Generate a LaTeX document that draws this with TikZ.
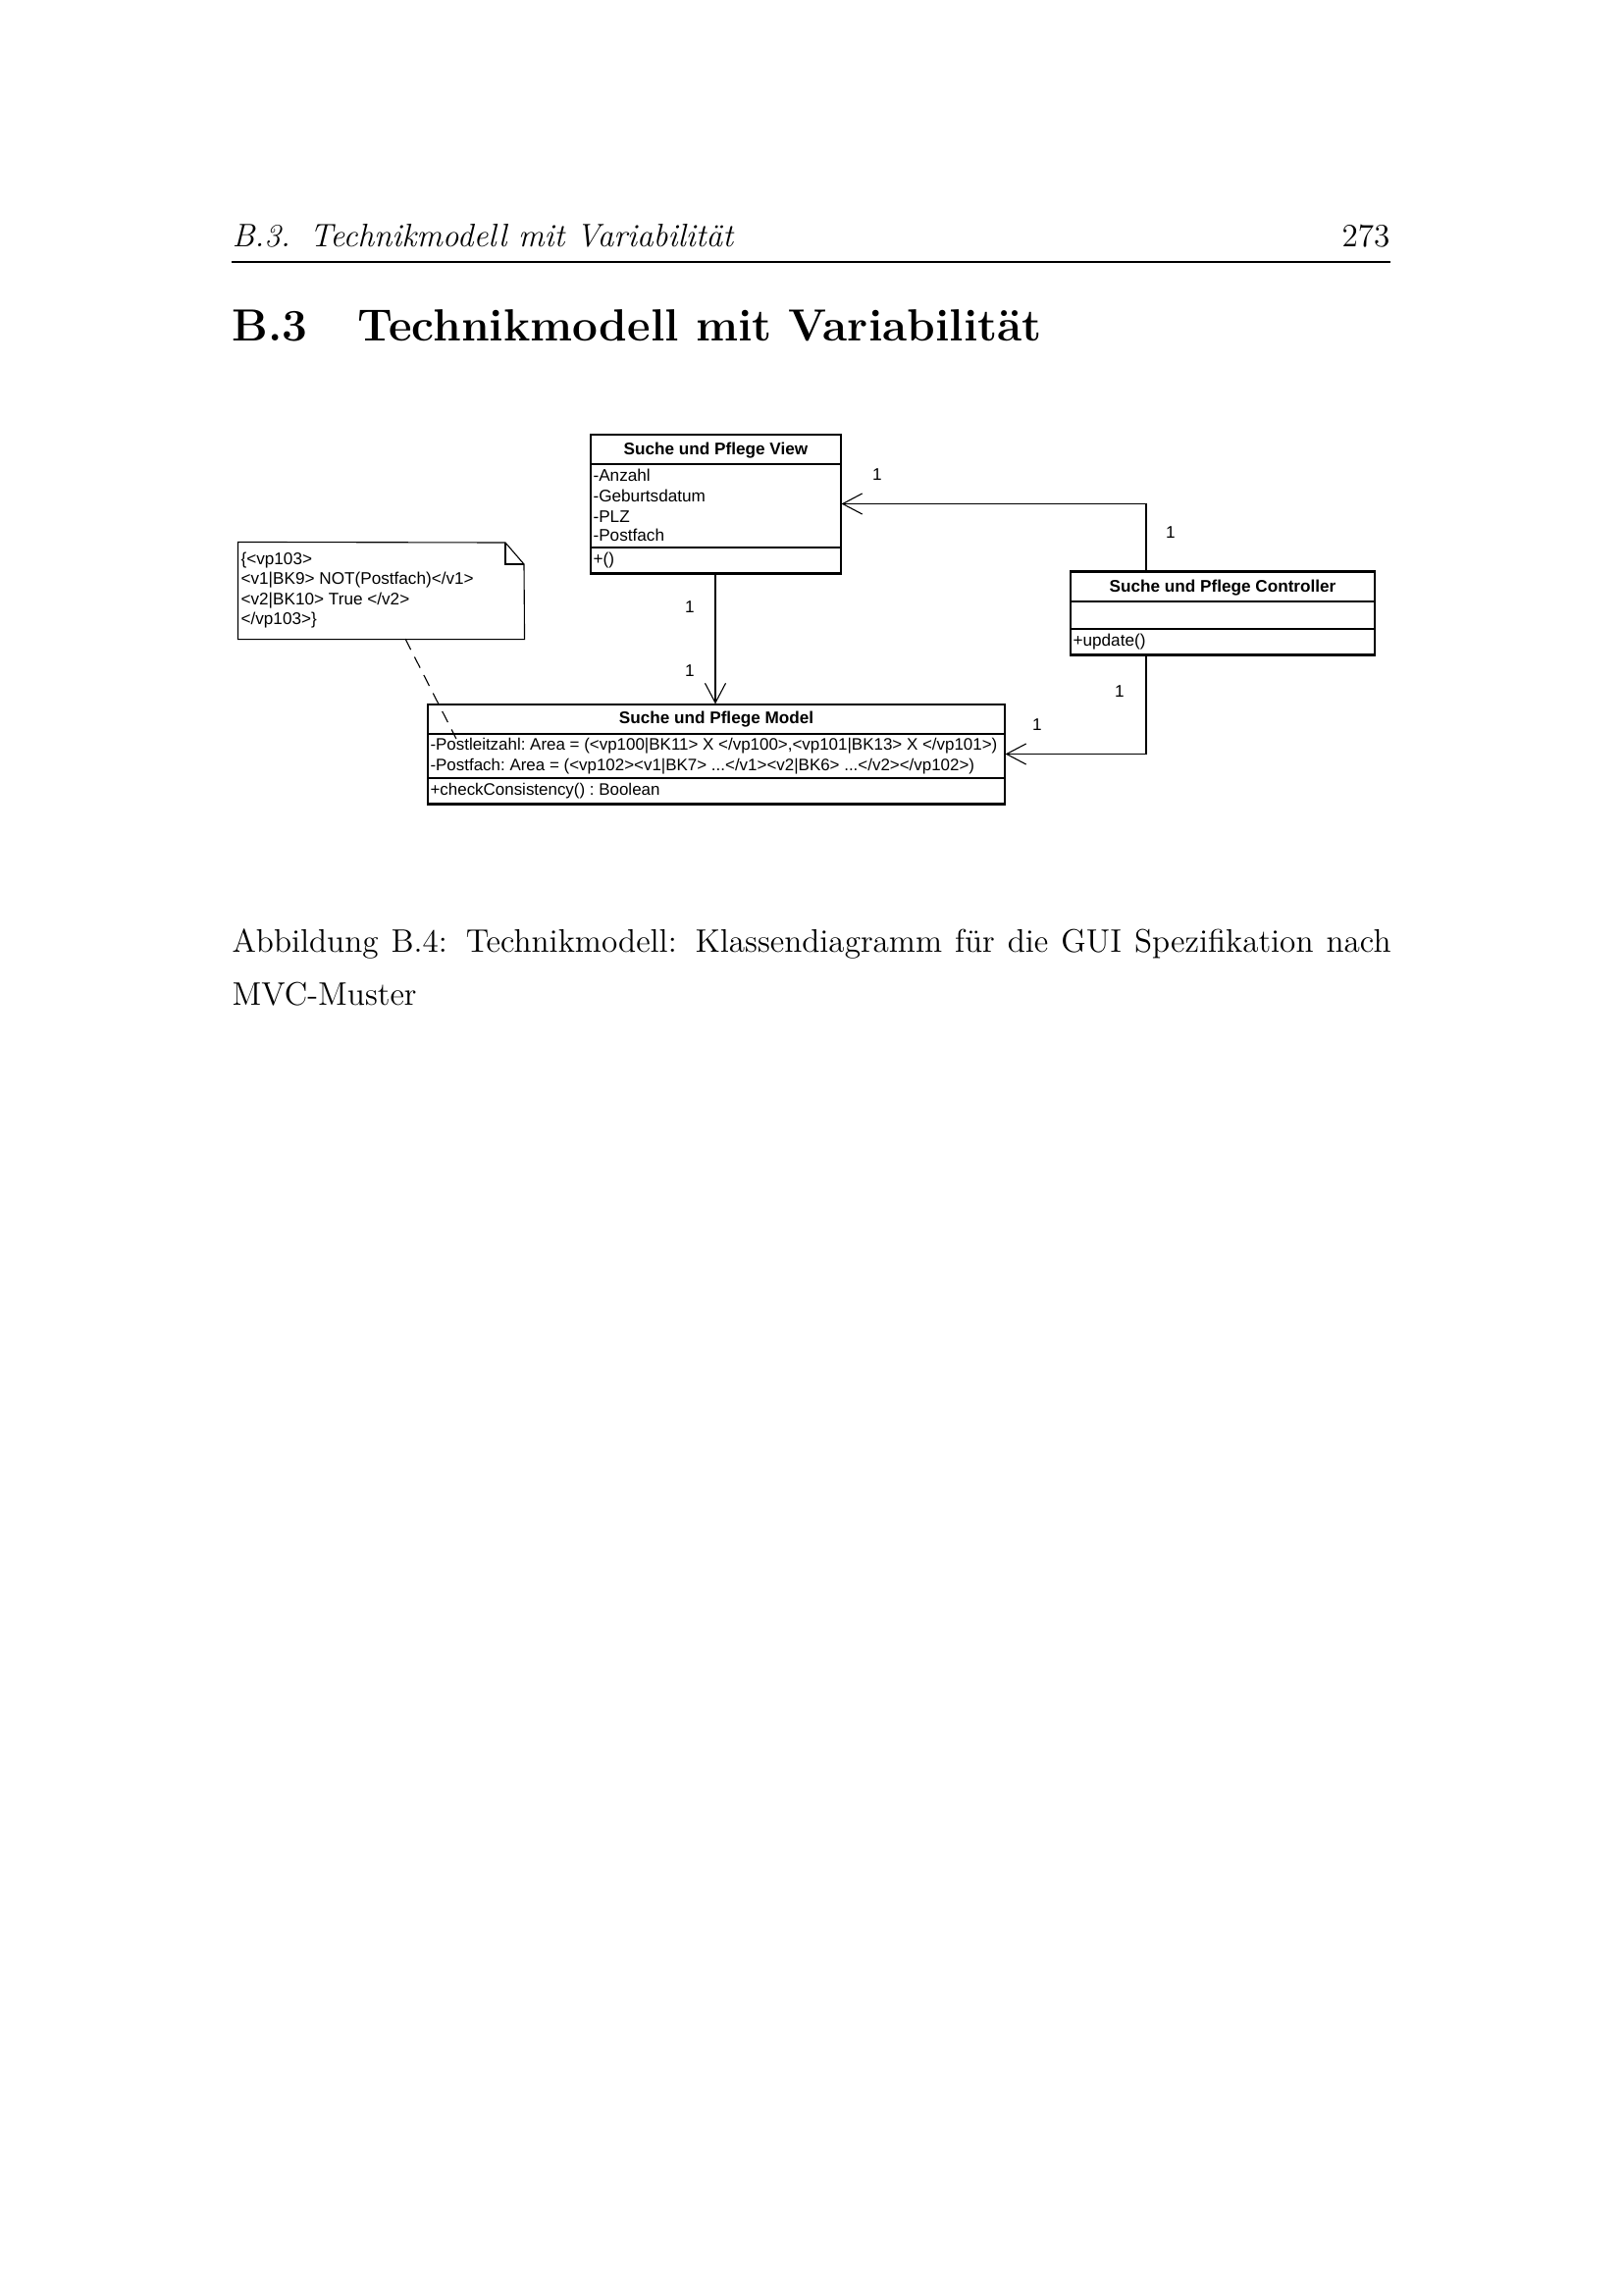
\documentclass[tikz,border=0pt]{standalone}
\usepackage{fontspec}
\newfontfamily\umlfont{Liberation Sans}
\usetikzlibrary{arrows.meta,fit}
\begin{document}
\begin{tikzpicture}[x=0.12697mm,y=-0.12697mm,
  uml/.style={font=\umlfont\frenchspacing\fontsize{6.2pt}{7.4pt}\selectfont, inner sep=0pt},
  umls/.style={font=\umlfont\frenchspacing\fontsize{6.12pt}{7.4pt}\selectfont, inner sep=0pt},
  umlb/.style={inner sep=0pt, font=\umlfont\frenchspacing\bfseries\fontsize{6.2pt}{7.4pt}\selectfont},
  cls/.style={draw, line width=0.4pt, inner sep=0pt},
  sep/.style={line width=0.4pt},
  thk/.style={line width=0.7pt},
  arr/.style={line width=0.4pt, -{Straight Barb[length=7.2pt,width=7.6pt]}},
  page/.style={inner sep=0pt, font=\fontsize{12pt}{14.5pt}\selectfont},
  pagei/.style={inner sep=0pt, font=\fontsize{12pt}{14.5pt}\selectfont\itshape},
  sect/.style={inner sep=0pt, font=\fontsize{16.6pt}{21pt}\selectfont\bfseries}]
\useasboundingbox (0,0) rectangle (1654,2339);

% running head
\node[pagei, anchor=base west] (hnum) at (236,251) {B.3.};
\node[pagei, anchor=base west] (htitle) at (315,251) {Technikmodell mit Variabilität};
\node[page, anchor=base east] (hpage) at (1417,251) {273};
\coordinate (rl) at (236,267);
\coordinate (rr) at (1417,267);
\draw[line width=0.4pt] (rl) -- (rr);

% section heading
\node[sect, anchor=base west] (snum) at (236,347) {B.3};
\node[sect, anchor=base west] (stitle) at (364,347) {Technikmodell mit Variabilität};

% ---- View class ----
\node[cls, fit={(602,443) (857,584)}] (view) {};
\draw[thk] (view.west |- 0,473) -- (view.east |- 0,473);
\draw[sep] (view.west |- 0,558) -- (view.east |- 0,558);
\draw[thk] (view.south west) -- (view.south east);
\node[umlb, anchor=base] (vh) at (729.5,463) {Suche und Pflege View};
\node[uml, anchor=base west] (va1) at (604,490) {-Anzahl};
\node[uml, anchor=base west] (va2) at (604,511) {-Geburtsdatum};
\node[uml, anchor=base west] (va3) at (604,532) {-PLZ};
\node[uml, anchor=base west] (va4) at (604,551) {-Postfach};
\node[uml, anchor=base west] (vo1) at (604,575) {+()};

% ---- Controller class ----
\node[cls, fit={(1091,583) (1401,667)}] (ctrl) {};
\draw[thk] (ctrl.north west) -- (ctrl.north east);
\draw[sep] (ctrl.west |- 0,613) -- (ctrl.east |- 0,613);
\draw[sep] (ctrl.west |- 0,641) -- (ctrl.east |- 0,641);
\draw[thk] (ctrl.south west) -- (ctrl.south east);
\node[umlb, anchor=base] (ch) at (1246,603) {Suche und Pflege Controller};
\node[uml, anchor=base west] (co1) at (1093,658) {+update()};

% ---- Model class ----
\node[cls, fit={(436,718) (1024,819)}] (model) {};
\draw[sep] (model.west |- 0,748) -- (model.east |- 0,748);
\draw[thk] (model.west |- 0,793) -- (model.east |- 0,793);
\draw[thk] (model.south west) -- (model.south east);
\node[umlb, anchor=base] (mh) at (730,737) {Suche und Pflege Model};
\node[umls, anchor=base west] (ma1) at (438,764) {-Postleitzahl: Area = (<vp100|BK11> X </vp100>,<vp101|BK13> X </vp101>)};
\node[umls, anchor=base west] (ma2) at (438,785) {-Postfach: Area = (<vp102><v1|BK7> ...</v1><v2|BK6> ...</v2></vp102>)};
\node[umls, anchor=base west] (mo1) at (438,810) {+checkConsistency() : Boolean};

% ---- Note ----
\node[inner sep=0pt, fit={(243,553) (534,651)}] (note) {};
\draw[line width=0.4pt] (note.north west) -- (515,553) -- (534,575) -- (note.south east) -- (note.south west) -- cycle;
\draw[line width=0.4pt] (515,553) -- (515,575) -- (534,575);
\node[uml, anchor=base west] (n1) at (245,575) {\{<vp103>};
\node[uml, anchor=base west] (n2) at (245,595.5) {<v1|BK9> NOT(Postfach)</v1>};
\node[uml, anchor=base west] (n3) at (245,616) {<v2|BK10> True </v2>};
\node[uml, anchor=base west] (n4) at (245,636) {</vp103>\}};

% ---- connectors ----
\draw[arr] (view.south -| 729,0) -- (model.north -| 729,0);
\coordinate (ct) at (1168,583);
\coordinate (cb) at (1168,667);
\draw[arr] (ct) |- (view.east);
\draw[arr] (cb) |- (model.east);
\coordinate (d1) at (413,651);
\coordinate (d2) at (465,753);
\draw[line width=0.4pt, dash pattern=on 4.5pt off 3pt] (d1) -- (d2);

% multiplicities
\node[uml, anchor=base] (m1) at (703,624) {1};
\node[uml, anchor=base] (m2) at (703,689) {1};
\node[uml, anchor=base] (m3) at (894,489) {1};
\node[uml, anchor=base] (m4) at (1193,548) {1};
\node[uml, anchor=base] (m5) at (1141,710) {1};
\node[uml, anchor=base] (m6) at (1057,744) {1};

% caption
\node[page, anchor=base west] (cap1) at (236,970) {\makebox[149.95mm][s]{Abbildung B.4: Technikmodell: Klassendiagramm für die GUI Spezifikation nach}};
\node[page, anchor=base west] (cap2) at (236,1024) {MVC-Muster};
\end{tikzpicture}
\end{document}
